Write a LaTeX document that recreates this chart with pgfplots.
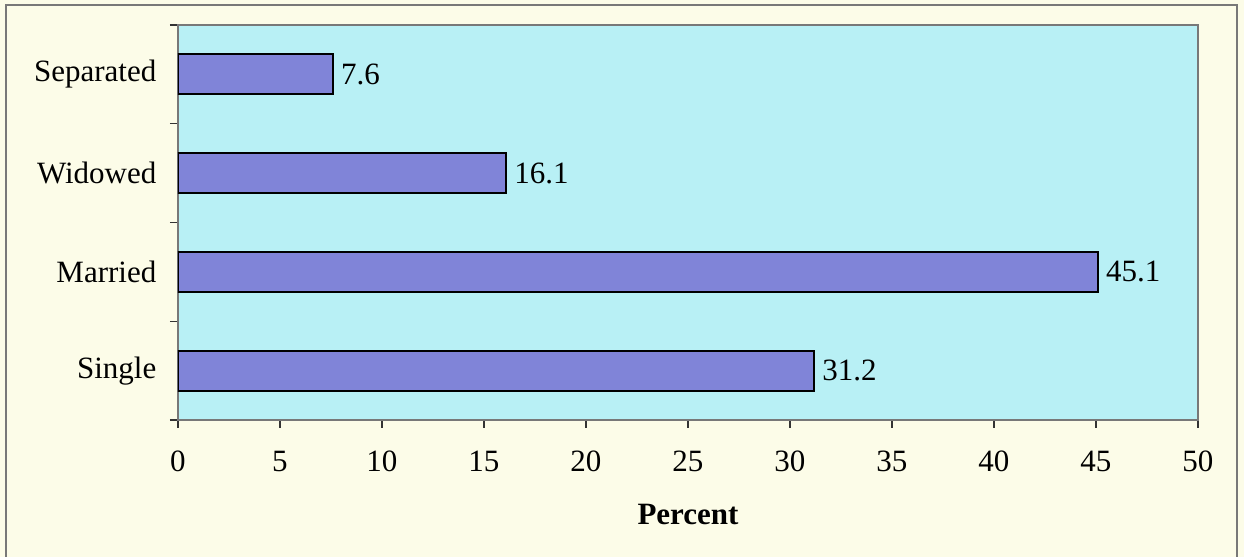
\documentclass[border=0pt]{standalone}
\usepackage{fontspec}
\setmainfont{Liberation Serif}
\usepackage{pgfplots}
\pgfplotsset{compat=1.18}
\definecolor{pagebg}{RGB}{252,252,232}
\definecolor{plotbg}{RGB}{184,240,245}
\definecolor{barfill}{RGB}{128,132,216}
\definecolor{framegray}{RGB}{120,120,120}
\begin{document}
\begin{tikzpicture}
\useasboundingbox (-89pt,-68.5pt) rectangle (533pt,210pt);
\fill[pagebg] (-89pt,-68.5pt) rectangle (533pt,210pt);
\begin{axis}[
  at={(0pt,0pt)}, anchor=south west,
  scale only axis,
  width=510pt, height=197.5pt,
  xbar,
  bar width=20pt,
  xmin=0, xmax=50,
  ymin=-0.5, ymax=3.5,
  xtick={0,5,...,50},
  ytick={-0.5,0.5,1.5,2.5,3.5},
  y tick label as interval,
  yticklabels={Single,Married,Widowed,Separated},
  tick align=outside,
  major tick length=4pt,
  tick style={black!80, line width=0.6pt},
  xtick pos=bottom, ytick pos=left,
  axis background/.style={fill=plotbg},
  axis line style={framegray, line width=0.6pt},
  ticklabel style={font=\fontsize{15.5}{18}\selectfont},
  xticklabel shift=8pt,
  yticklabel shift=3.3pt,
  /pgf/number format/assume math mode=true,
  xlabel={\textbf{Percent}},
  xlabel style={at={(rel axis cs:0.5,0)}, anchor=center, yshift=-47.5pt, font=\fontsize{15.5}{18}\selectfont},
  nodes near coords,
  nodes near coords style={anchor=west, inner sep=3.5pt, font=\fontsize{15.5}{18}\selectfont, /pgf/number format/fixed, /pgf/number format/precision=1, /pgf/number format/fixed zerofill},
]
\addplot[fill=barfill, draw=black, line width=1pt] coordinates {
  (31.2,0) (45.1,1) (16.1,2) (7.6,3)
};
\end{axis}
\draw[framegray, line width=0.6pt] (-86pt,-70pt) -- (-86pt,207.5pt) -- (529.5pt,207.5pt) -- (529.5pt,-70pt);
\end{tikzpicture}
\end{document}
